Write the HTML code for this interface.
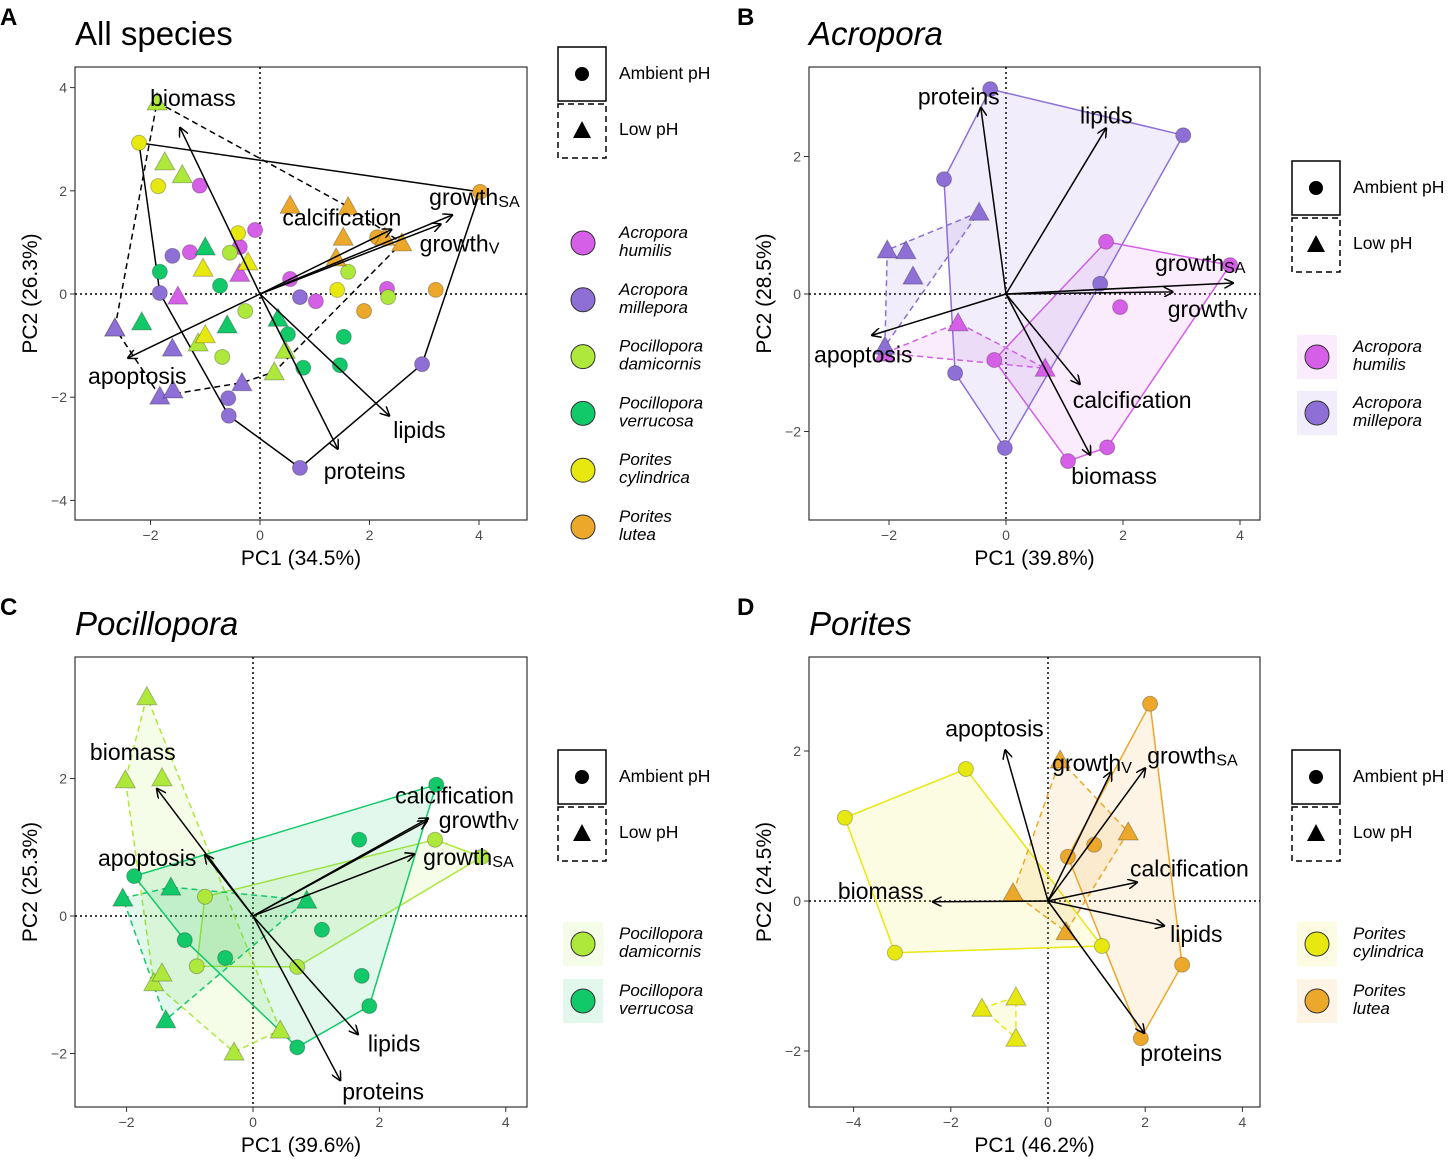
<!DOCTYPE html>
<html><head><meta charset="utf-8"><style>
body{margin:0;background:#fff}
svg text{font-family:"Liberation Sans",Arial,sans-serif}
</style></head><body>
<svg id="fig" width="1449" height="1160" viewBox="0 0 1449 1160">
<defs><marker id="ah" viewBox="0 0 10 10" refX="9" refY="5" markerWidth="10" markerHeight="10" orient="auto" markerUnits="userSpaceOnUse"><path d="M0,0 L10,5 L0,10" fill="none" stroke="#000" stroke-width="1.5"/></marker></defs>
</svg>
<script>
// ---------- Panel A data ----------
const A_x = [-1.1,-1.28,-0.09,0.55,1.02,2.32,-0.37, -2.65,-1.5,-0.37, -1.6,-1.83,-0.58,-0.57,0.73,2.96,0.73, -2.65,-1.6,-1.83,-1.59,-0.33, -0.55,-0.27,-0.69,1.61,2.34, -1.88,-1.74,-1.42,-1.13,0.26,0.46, -1.83,-0.73,0.51,0.79,1.53,1.46, -2.16,-1.0,-0.6,0.33, -2.21,-1.86,-0.4,1.41, -1.04,-0.22,-1.0, 4.02,3.21,1.9,2.14, 0.55,1.61,1.52,2.59,2.28,1.39];
const A_y = [2.1,0.81,1.24,0.29,-0.14,0.1,0.91, -0.66,-0.04,0.4, 0.74,0.02,-2.02,-2.36,-3.37,-1.36,-0.06, -0.66,-1.05,-1.98,-1.86,-1.72, 0.8,-0.33,-1.22,0.43,-0.06, 3.72,2.56,2.31,-0.95,-1.51,-1.09, 0.43,0.16,-0.78,-1.43,-0.83,-1.38, -0.54,0.91,-0.6,-0.47, 2.93,2.09,1.18,0.08, 0.5,0.62,-0.79, 1.98,0.08,-0.33,1.1, 1.72,1.69,1.1,0.99,1.1,0.7];
const A_sp = [0,0,0,0,0,0,0, 0,0,0, 1,1,1,1,1,1,1, 1,1,1,1,1, 2,2,2,2,2, 2,2,2,2,2,2, 3,3,3,3,3,3, 3,3,3,3, 4,4,4,4, 4,4,4, 5,5,5,5, 5,5,5,5,5,5];
const A_ph = [0,0,0,0,0,0,0, 1,1,1, 0,0,0,0,0,0,0, 1,1,1,1,1, 0,0,0,0,0, 1,1,1,1,1,1, 0,0,0,0,0,0, 1,1,1,1, 0,0,0,0, 1,1,1, 0,0,0,0, 1,1,1,1,1,1];
const A_vars = ["biomass","growthSA","growthV","calcification","apoptosis","lipids","proteins"];
const A_lx = [-1.46,3.51,3.3,2.4,-2.41,2.36,1.42];
const A_ly = [3.22,1.53,1.35,1.25,-1.24,-2.36,-3.0];
// ---------- Panel B data ----------
const B_x = [1.71,3.83,1.95,1.73,1.06,-0.2, 0.67,-0.82,-2.07, -0.27,3.03,-1.06,1.61,-0.02,-0.87, -0.46,-2.03,-1.71,-1.59,-2.07];
const B_y = [0.76,0.42,-0.19,-2.23,-2.43,-0.96, -1.08,-0.42,-0.86, 2.98,2.31,1.67,0.15,-2.24,-1.15, 1.19,0.64,0.63,0.26,-0.76];
const B_sp = [0,0,0,0,0,0, 0,0,0, 1,1,1,1,1,1, 1,1,1,1,1];
const B_ph = [0,0,0,0,0,0, 1,1,1, 0,0,0,0,0,0, 1,1,1,1,1];
const B_vars = ["proteins","lipids","growthSA","growthV","apoptosis","calcification","biomass"];
const B_lx = [-0.43,1.71,3.88,2.85,-2.29,1.26,1.44];
const B_ly = [2.71,2.41,0.16,0.03,-0.6,-1.31,-2.34];
// ---------- Panel C data ----------
const C_x = [2.88,3.62,-0.76,-0.89,0.7, -1.68,-2.02,-1.44,-1.57,-1.44,-0.3,0.43, 2.9,1.68,-1.88,-1.08,-0.44,1.09,1.72,1.84,0.7, -2.06,-1.3,-1.38,0.85];
const C_y = [1.11,0.86,0.28,-0.73,-0.74, 3.19,1.98,2.01,-0.97,-0.83,-1.98,-1.66, 1.91,1.11,0.58,-0.35,-0.61,-0.2,-0.87,-1.31,-1.91, 0.26,0.42,-1.51,0.23];
const C_sp = [2,2,2,2,2, 2,2,2,2,2,2,2, 3,3,3,3,3,3,3,3,3, 3,3,3,3];
const C_ph = [0,0,0,0,0, 1,1,1,1,1,1,1, 0,0,0,0,0,0,0,0,0, 1,1,1,1];
const C_vars = ["biomass","apoptosis","calcification","growthV","growthSA","lipids","proteins"];
const C_lx = [-1.52,-0.76,2.77,2.75,2.55,1.66,1.38];
const C_ly = [1.85,0.89,1.42,1.38,0.9,-1.72,-2.39];
// ---------- Panel D data ----------
const D_x = [-1.69,-4.18,-3.15,1.11, -1.36,-0.66,-0.66, 2.1,0.41,0.95,2.76,1.91, 0.25,1.65,-0.72,0.37];
const D_y = [1.76,1.11,-0.69,-0.6, -1.43,-1.28,-1.83, 2.63,0.59,0.75,-0.85,-1.83, 1.88,0.92,0.11,-0.41];
const D_sp = [4,4,4,4, 4,4,4, 5,5,5,5,5, 5,5,5,5];
const D_ph = [0,0,0,0, 1,1,1, 0,0,0,0,0, 1,1,1,1];
const D_vars = ["apoptosis","growthV","growthSA","calcification","lipids","biomass","proteins"];
const D_lx = [-0.88,1.3,2.0,1.83,2.39,-2.37,1.98];
const D_ly = [2.01,1.72,1.77,0.25,-0.33,-0.01,-1.76];

const COLORS = ["#d65fe8","#8e6fd6","#aee83a","#12c96a","#e8e811","#eba82a"];
const SPNAMES = [["Acropora","humilis"],["Acropora","millepora"],["Pocillopora","damicornis"],["Pocillopora","verrucosa"],["Porites","cylindrica"],["Porites","lutea"]];
// label layout offsets (px) relative to arrow tip
const LOFF = {
 A:{biomass:[-30,-30],growthSA:[-23,-18],growthV:[-21,19],calcification:[-109,-12],apoptosis:[-40,18],lipids:[4,14],proteins:[-14,22]},
 B:{proteins:[-63,-11],lipids:[-26,-13],growthSA:[-78,-20],growthV:[-5,17],apoptosis:[-58,19],calcification:[-7,16],biomass:[-19,21]},
 C:{biomass:[-67,-37],apoptosis:[-107,3],calcification:[-33,-23],growthV:[12,-1],growthSA:[9,3],lipids:[10,9],proteins:[2,11]},
 D:{apoptosis:[-60,-22],growthV:[-59,-9],growthSA:[2,-13],calcification:[-7,-14],lipids:[6,8],biomass:[-95,-11],proteins:[-4,20]}
};
const NS="http://www.w3.org/2000/svg";
const svg=document.getElementById('fig');
function mk(tag,attrs,parent){const e=document.createElementNS(NS,tag);for(const k in attrs)e.setAttribute(k,attrs[k]);(parent||svg).appendChild(e);return e;}
function hull(pts){
 if(pts.length<3)return pts.slice();
 pts=pts.slice().sort((a,b)=>a[0]-b[0]||a[1]-b[1]);
 const cr=(o,a,b)=>(a[0]-o[0])*(b[1]-o[1])-(a[1]-o[1])*(b[0]-o[0]);
 const lo=[],up=[];
 for(const p of pts){while(lo.length>=2&&cr(lo[lo.length-2],lo[lo.length-1],p)<=0)lo.pop();lo.push(p);}
 for(const p of pts.slice().reverse()){while(up.length>=2&&cr(up[up.length-2],up[up.length-1],p)<=0)up.pop();up.push(p);}
 return lo.slice(0,-1).concat(up.slice(0,-1));
}
function label(g,name,x,y,size){
 const t=mk('text',{x:x,y:y,'font-size':size,'dominant-baseline':'central'},g);
 const m=name.match(/^growth(SA|V)$/);
 if(m){t.appendChild(document.createTextNode('growth'));const s=mk('tspan',{'font-size':size*0.7,dy:5},t);s.textContent=m[1];}
 else t.textContent=name;
 return t;
}
function panel(cfg){
 const g=mk('g',{});
 
 
 const X=v=>cfg.x0+v*cfg.ux, Y=v=>cfg.y0-v*cfg.uy;
 const L=mk('text',{x:cfg.id==='A'||cfg.id==='C'?0:737,y:cfg.by0-42,'font-size':24,'font-weight':'bold'},g);
 L.textContent=cfg.id;
 
 const T=mk('text',{x:cfg.bx0,y:cfg.by0-22,'font-size':33,'font-style':cfg.italic?'italic':'normal'},g);
 T.textContent=cfg.title;
 const box=mk('rect',{x:cfg.bx0,y:cfg.by0,width:cfg.bx1-cfg.bx0,height:cfg.by1-cfg.by0,fill:'#fff',stroke:'#333','stroke-width':1.2},g);
 
 for(const v of cfg.xt){const px=X(v);mk('line',{x1:px,x2:px,y1:cfg.by1,y2:cfg.by1+5,stroke:'#333'},g);
  const t=mk('text',{x:px,y:cfg.by1+20,'font-size':14,fill:'#4d4d4d','text-anchor':'middle'},g);t.textContent=v<0?'\u2212'+(-v):v;
  }
 for(const v of cfg.yt){const py=Y(v);mk('line',{x1:cfg.bx0-5,x2:cfg.bx0,y1:py,y2:py,stroke:'#333'},g);
  const t=mk('text',{x:cfg.bx0-8,y:py,'font-size':14,fill:'#4d4d4d','text-anchor':'end','dominant-baseline':'central'},g);t.textContent=v<0?'\u2212'+(-v):v;
  }
 const xl=mk('text',{x:(cfg.bx0+cfg.bx1)/2,y:cfg.by1+45,'font-size':21,'text-anchor':'middle'},g);xl.textContent=cfg.xlab;
 
 const yc=(cfg.by0+cfg.by1)/2;
 const yl=mk('text',{x:cfg.bx0-38,y:yc,'font-size':21,'text-anchor':'middle',transform:`rotate(-90 ${cfg.bx0-38} ${yc})`},g);yl.textContent=cfg.ylab;
 
 mk('line',{x1:cfg.bx0,x2:cfg.bx1,y1:Y(0),y2:Y(0),stroke:'#000','stroke-dasharray':'2,3','stroke-width':1.5},g);
 mk('line',{x1:X(0),x2:X(0),y1:cfg.by0,y2:cfg.by1,stroke:'#000','stroke-dasharray':'2,3','stroke-width':1.5},g);
 const groups=cfg.combined?[[null,0],[null,1]]:[];
 if(!cfg.combined){const sps=[...new Set(cfg.sp)];for(const s of sps)for(const p of [0,1])groups.push([s,p]);}
 for(const [s,p] of groups){
  const pts=[];for(let i=0;i<cfg.xs.length;i++)if(cfg.ph[i]===p&&(s===null||cfg.sp[i]===s))pts.push([X(cfg.xs[i]),Y(cfg.ys[i])]);
  const h=hull(pts);if(h.length<2)continue;
  const col=s===null?'#000':COLORS[s];
  const poly=mk('polygon',{points:h.map(q=>q.join(',')).join(' '),fill:s===null?'none':col,'fill-opacity':0.12,stroke:col,'stroke-width':1.5,'stroke-dasharray':p?'6,4':'none'},g);
  
  
 }
 for(let i=0;i<cfg.xs.length;i++){
  const px=X(cfg.xs[i]),py=Y(cfg.ys[i]),col=COLORS[cfg.sp[i]];let e;
  if(cfg.ph[i]===0)e=mk('circle',{cx:px,cy:py,r:7.5,fill:col,stroke:'rgba(0,0,0,0.25)'},g);
  else e=mk('polygon',{points:`${px},${py-10} ${px+10},${py+8} ${px-10},${py+8}`,fill:col,stroke:'rgba(0,0,0,0.25)'},g);
  
  
 }
 for(let i=0;i<cfg.vars.length;i++){
  const tx=X(cfg.lx[i]),ty=Y(cfg.ly[i]);
  const a=mk('line',{x1:X(0),y1:Y(0),x2:tx,y2:ty,stroke:'#000','stroke-width':1.5,'marker-end':'url(#ah)'},g);
  
  const off=LOFF[cfg.id][cfg.vars[i]]||[4,0];
  const t=label(g,cfg.vars[i],tx+off[0],ty+off[1],23);
  
 }
 const lx=cfg.legx, ly=cfg.legy;
 const r1=mk('rect',{x:lx,y:ly,width:48,height:54,fill:'#fff',stroke:'#000','stroke-width':1.5},g);
 
 mk('circle',{cx:lx+24,cy:ly+27,r:7,fill:'#000'},g);
 const r2=mk('rect',{x:lx,y:ly+57,width:48,height:54,fill:'#fff',stroke:'#000','stroke-width':1.5,'stroke-dasharray':'6,4'},g);
 
 mk('polygon',{points:`${lx+24},${ly+74} ${lx+33},${ly+91} ${lx+15},${ly+91}`,fill:'#000'},g);
 const t1=mk('text',{x:lx+61,y:ly+26,'font-size':17.5,'dominant-baseline':'central'},g);t1.textContent='Ambient pH';
 
 const t2=mk('text',{x:lx+61,y:ly+82,'font-size':17.5,'dominant-baseline':'central'},g);t2.textContent='Low pH';
 
 cfg.legsp.forEach((s,k)=>{
  const cy=cfg.spy+k*cfg.spstep, cx=lx+25;
  if(!cfg.combined){const bg=mk('rect',{x:cx-20,y:cy-22,width:40,height:44,fill:COLORS[s],'fill-opacity':0.12},g);}
  const c=mk('circle',{cx:cx,cy:cy,r:12,fill:COLORS[s],stroke:'#333','stroke-width':1},g);
  
  const t=mk('text',{x:cx+36,y:cy-5,'font-size':17,'font-style':'italic'},g);t.textContent=SPNAMES[s][0];
  
  const t3=mk('text',{x:cx+36,y:cy+13,'font-size':17,'font-style':'italic'},g);t3.textContent=SPNAMES[s][1];
  
 });
}
panel({id:'A',title:'All species',italic:false,combined:true,xs:A_x,ys:A_y,sp:A_sp,ph:A_ph,vars:A_vars,lx:A_lx,ly:A_ly,
 bx0:75,bx1:527,by0:67,by1:520,x0:260,ux:54.75,y0:294,uy:51.6,xt:[-2,0,2,4],yt:[-4,-2,0,2,4],xlab:'PC1 (34.5%)',ylab:'PC2 (26.3%)',
 legx:558,legy:47,legsp:[0,1,2,3,4,5],spy:243,spstep:56.8});
panel({id:'B',title:'Acropora',italic:true,combined:false,xs:B_x,ys:B_y,sp:B_sp,ph:B_ph,vars:B_vars,lx:B_lx,ly:B_ly,
 bx0:809,bx1:1260,by0:67,by1:520,x0:1006,ux:58.5,y0:294,uy:68.75,xt:[-2,0,2,4],yt:[-2,0,2],xlab:'PC1 (39.8%)',ylab:'PC2 (28.5%)',
 legx:1292,legy:161,legsp:[0,1],spy:357,spstep:56});
panel({id:'C',title:'Pocillopora',italic:true,combined:false,xs:C_x,ys:C_y,sp:C_sp,ph:C_ph,vars:C_vars,lx:C_lx,ly:C_ly,
 bx0:75,bx1:527,by0:657,by1:1107,x0:253,ux:63.2,y0:916,uy:68.75,xt:[-2,0,2,4],yt:[-2,0,2],xlab:'PC1 (39.6%)',ylab:'PC2 (25.3%)',
 legx:558,legy:750,legsp:[2,3],spy:944,spstep:57});
panel({id:'D',title:'Porites',italic:true,combined:false,xs:D_x,ys:D_y,sp:D_sp,ph:D_ph,vars:D_vars,lx:D_lx,ly:D_ly,
 bx0:809,bx1:1260,by0:657,by1:1107,x0:1048,ux:48.6,y0:901,uy:75,xt:[-4,-2,0,2,4],yt:[-2,0,2],xlab:'PC1 (46.2%)',ylab:'PC2 (24.5%)',
 legx:1292,legy:750,legsp:[4,5],spy:944,spstep:57});
</script>
</body></html>
